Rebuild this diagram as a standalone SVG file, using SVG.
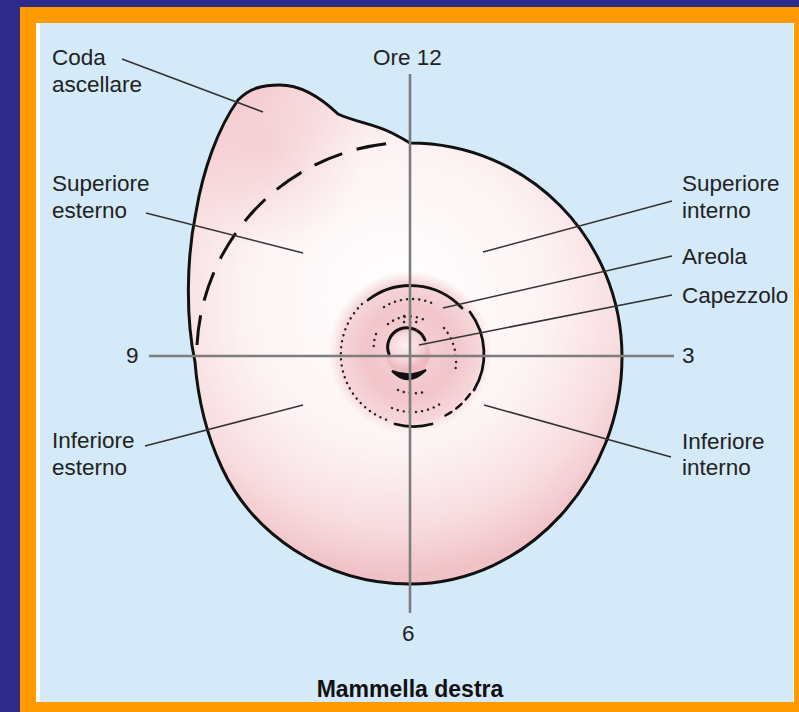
<svg xmlns="http://www.w3.org/2000/svg" width="799" height="712" viewBox="0 0 799 712">
  <defs>
    <path id="bodyPath" d="M410,143 C528,143 622,239 622,357 C622,478 528,584 410,584 C322,584 252,532 222,468 C206,434 198,400 195,362 C186,320 186,260 196,212 C203,170 218,128 238,100 C250,88 262,85 280,85 C300,85 318,95 338,114 C355,122 375,124 392,133 C400,137 405,140 410,143 Z"/>
    <radialGradient id="skin" gradientUnits="userSpaceOnUse" cx="395" cy="300" r="275">
      <stop offset="0" stop-color="#ffffff"/>
      <stop offset="0.55" stop-color="#fdf3f4"/>
      <stop offset="0.82" stop-color="#f8dde0"/>
      <stop offset="1" stop-color="#f0c2c7"/>
    </radialGradient>
    <radialGradient id="tailShade" gradientUnits="userSpaceOnUse" cx="262" cy="145" r="105">
      <stop offset="0" stop-color="#f3c7cc" stop-opacity="0.7"/>
      <stop offset="1" stop-color="#f3c7cc" stop-opacity="0"/>
    </radialGradient>
    <radialGradient id="areolaShade" gradientUnits="userSpaceOnUse" cx="410" cy="352" r="82">
      <stop offset="0" stop-color="#f6d4d8"/>
      <stop offset="0.55" stop-color="#f2c5ca"/>
      <stop offset="0.85" stop-color="#f4cdd1" stop-opacity="0.8"/>
      <stop offset="1" stop-color="#f8dfe1" stop-opacity="0"/>
    </radialGradient>
    <radialGradient id="nippleShade" gradientUnits="userSpaceOnUse" cx="405" cy="345" r="24">
      <stop offset="0" stop-color="#fdf0f1"/>
      <stop offset="0.7" stop-color="#f5d2d6"/>
      <stop offset="1" stop-color="#eeb9bf"/>
    </radialGradient>
    <style>
      .lbl { font-family: "Liberation Sans", Arial, sans-serif; font-size: 22.5px; fill: #222222; }
      .title { font-family: "Liberation Sans", Arial, sans-serif; font-size: 23px; font-weight: bold; fill: #111111; }
      .leader { stroke: #333333; stroke-width: 1.6; fill: none; }
      .axis { stroke: #7d7d7d; stroke-width: 2.6; fill: none; }
      .ink { stroke: #111111; fill: none; stroke-linecap: round; }
      .dots { stroke: #222222; fill: none; stroke-linecap: round; stroke-width: 2.4; stroke-dasharray: 0.1 6; }
    </style>
  </defs>

  <!-- frame -->
  <rect x="0" y="0" width="799" height="712" fill="#2e2a8a"/>
  <rect x="20" y="7" width="779" height="705" fill="#ff9a00"/>
  <rect x="36" y="23" width="758" height="679" fill="#ffffff"/>
  <rect x="40" y="23" width="753" height="679" fill="#d4eaf8"/>

  <!-- breast body with axillary tail -->
  <g id="breast">
    <use href="#bodyPath" fill="url(#skin)"/>
    <use href="#bodyPath" fill="url(#tailShade)"/>
    <use href="#bodyPath" fill="none" stroke="#111111" stroke-width="3"/>
    <!-- dashed boundary of the tail -->
    <path d="M197,345 A214,214 0 0 1 394,143" fill="none" stroke="#111111" stroke-width="3" stroke-dasharray="30 15"/>
  </g>

  <!-- areola -->
  <g id="areola">
    <circle cx="410" cy="354" r="82" fill="url(#areolaShade)"/>
    <!-- outer rim: solid parts -->
    <path class="ink" stroke-width="2.8" d="M368,300 A70,70 0 0 1 462,308"/>
    <path class="ink" stroke-width="2.8" d="M470,312 A70,70 0 0 1 474,390"/>
    <path class="ink" stroke-width="2.8" d="M395,424 A70,70 0 0 0 432,424"/>
    <path class="ink" stroke-width="2.4" stroke-dasharray="7 6" d="M470,394 A70,70 0 0 1 440,418"/>
    <!-- outer rim: dotted left side -->
    <path class="dots" d="M362,304 A70,70 0 0 0 390,421"/>
    <!-- inner dotted ring -->
    <path class="dots" d="M384,307 A52,52 0 0 1 436,305"/>
    <path class="dots" d="M444,328 A52,52 0 0 1 455,372"/>
    <path class="dots" d="M376,334 A40,40 0 0 0 374,352"/>
    <path class="dots" d="M392,408 A52,52 0 0 0 440,404"/>
    <path class="dots" d="M388,324 A34,34 0 0 1 428,322"/>
    <path class="dots" d="M398,390 A40,40 0 0 0 424,392"/>
    <path class="dots" d="M404,316 L416,316"/>
    <path class="dots" d="M404,322 L418,322"/>
  </g>

  <!-- nipple -->
  <g id="nipple">
    <circle cx="408" cy="354" r="22" fill="url(#nippleShade)"/>
    <path class="ink" stroke-width="3" d="M389,354 A19,19 0 0 1 425,340"/>
    <path d="M392,371 Q408,388 426,370 Q410,378 392,371 Z" fill="#111111" stroke="#111111" stroke-width="2"/>
  </g>

  <!-- clock axes and label leaders -->
  <g id="connectors">
    <line class="axis" x1="410" y1="74" x2="410" y2="613"/>
    <line class="axis" x1="149" y1="356" x2="674" y2="356"/>
    <line class="leader" x1="122" y1="59" x2="263" y2="112"/>
    <line class="leader" x1="146" y1="213" x2="303" y2="253"/>
    <line class="leader" x1="672" y1="201" x2="483" y2="252"/>
    <line class="leader" x1="672" y1="256" x2="443" y2="308"/>
    <line class="leader" x1="672" y1="295" x2="419" y2="345"/>
    <line class="leader" x1="145" y1="446" x2="303" y2="405"/>
    <line class="leader" x1="671" y1="457" x2="484" y2="405"/>
  </g>

  <!-- labels -->
  <g id="labels">
    <text class="lbl" x="52" y="65">Coda</text>
    <text class="lbl" x="52" y="92">ascellare</text>
    <text class="lbl" x="373" y="65">Ore 12</text>
    <text class="lbl" x="52" y="191">Superiore</text>
    <text class="lbl" x="52" y="218">esterno</text>
    <text class="lbl" x="682" y="191">Superiore</text>
    <text class="lbl" x="682" y="218">interno</text>
    <text class="lbl" x="682" y="264">Areola</text>
    <text class="lbl" x="682" y="303">Capezzolo</text>
    <text class="lbl" x="126" y="363">9</text>
    <text class="lbl" x="682" y="363">3</text>
    <text class="lbl" x="52" y="448">Inferiore</text>
    <text class="lbl" x="52" y="475">esterno</text>
    <text class="lbl" x="682" y="449">Inferiore</text>
    <text class="lbl" x="682" y="475">interno</text>
    <text class="lbl" x="402" y="641">6</text>
    <text class="title" x="410" y="697" text-anchor="middle">Mammella destra</text>
  </g>
</svg>
